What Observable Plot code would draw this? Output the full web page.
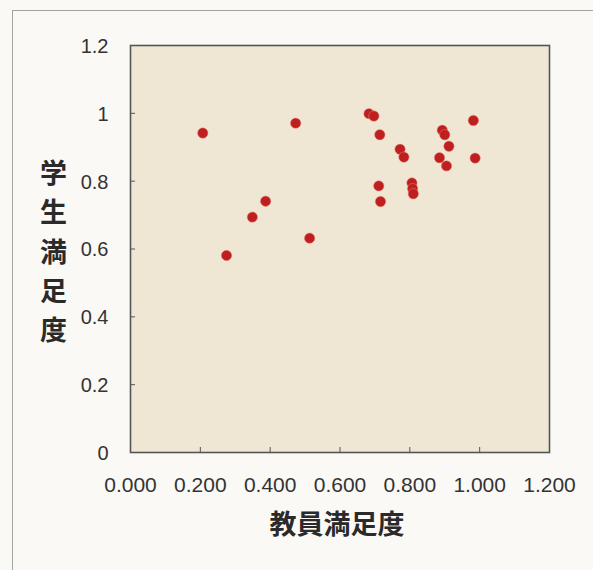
<!DOCTYPE html>
<html>
<head>
<meta charset="utf-8">
<script src="https://cdn.jsdelivr.net/npm/d3@7"></script>
<script src="https://cdn.jsdelivr.net/npm/@observablehq/plot@0.6"></script>
<style>
  html, body { margin: 0; padding: 0; background: #faf9f5; }
  body { width: 593px; height: 570px; position: relative; overflow: hidden; }
  #border { position: absolute; left: 12px; top: 10px; width: 620px; height: 620px;
            border: 1.5px solid #a3a3a3; box-sizing: border-box; }
  #chart { position: absolute; left: 0; top: 0; }
</style>
</head>
<body>
<div id="border"></div>
<div id="chart"></div>
<script>
// 教員満足度 (faculty satisfaction) vs 学生満足度 (student satisfaction)
const facultySatisfaction = [0.207, 0.275, 0.349, 0.387, 0.473, 0.513,
  0.683, 0.697, 0.714, 0.711, 0.716, 0.772, 0.783,
  0.806, 0.808, 0.810,
  0.893, 0.900, 0.912, 0.885, 0.905, 0.982, 0.987];
const studentSatisfaction = [0.942, 0.581, 0.694, 0.741, 0.971, 0.632,
  0.999, 0.992, 0.937, 0.786, 0.740, 0.894, 0.871,
  0.795, 0.778, 0.763,
  0.950, 0.937, 0.903, 0.869, 0.845, 0.979, 0.868];
const xTicks = [0, 0.2, 0.4, 0.6, 0.8, 1.0, 1.2];
const yTicks = [0, 0.2, 0.4, 0.6, 0.8, 1.0, 1.2];
const xTitle = "教員満足度";
const yTitle = "学生満足度";

const points = facultySatisfaction.map((x, i) => ({x, y: studentSatisfaction[i]}));
const latin = "'Liberation Sans', Arial, sans-serif";
const cjk = "'Noto Sans CJK JP', sans-serif";

const chart = Plot.plot({
  width: 593,
  height: 570,
  marginLeft: 130,
  marginRight: 44,
  marginTop: 45,
  marginBottom: 118,
  style: { background: "transparent", fontFamily: latin, color: "#333" },
  x: { domain: [0, 1.2], ticks: xTicks },
  y: { domain: [0, 1.2], ticks: yTicks },
  marks: [
    Plot.frame({ fill: "#efe7d4" }),
    Plot.axisX({ ticks: xTicks, tickSize: -5, text: null, stroke: "#555", label: null }),
    Plot.axisY({ ticks: yTicks, tickSize: -5, text: null, stroke: "#555", label: null }),
    Plot.text(xTicks, { x: d => d, frameAnchor: "bottom", dy: 39, text: d => d3.format(".3f")(d),
      textAnchor: "middle", fontSize: 21, fill: "#333", fontFamily: latin }),
    Plot.text(yTicks, { y: d => d, frameAnchor: "left", dx: -22, dy: 1, textAnchor: "end",
      text: d => d3.format("~g")(d), fontSize: 20, fill: "#333", fontFamily: latin }),
    Plot.dot(points, { x: "x", y: "y", r: 5.2, fill: "#bf1f1f", stroke: "#e38a80", strokeWidth: 0.8, strokeOpacity: 0.6 }),
    Plot.frame({ stroke: "#555", strokeWidth: 1.6 }),
    Plot.text([xTitle], { frameAnchor: "bottom", dy: 81, dx: -3, text: d => d, textAnchor: "middle",
      fontSize: 27, fontWeight: "bold", fill: "#2a2a2a", fontFamily: cjk }),
    Plot.text([yTitle], { frameAnchor: "left", dx: -77, dy: 0, text: d => d.split("").join("\n"),
      textAnchor: "middle", lineHeight: 1.45, fontSize: 27, fontWeight: "bold", fill: "#2a2a2a", fontFamily: cjk })
  ]
});
document.getElementById("chart").append(chart);
</script>
</body>
</html>
